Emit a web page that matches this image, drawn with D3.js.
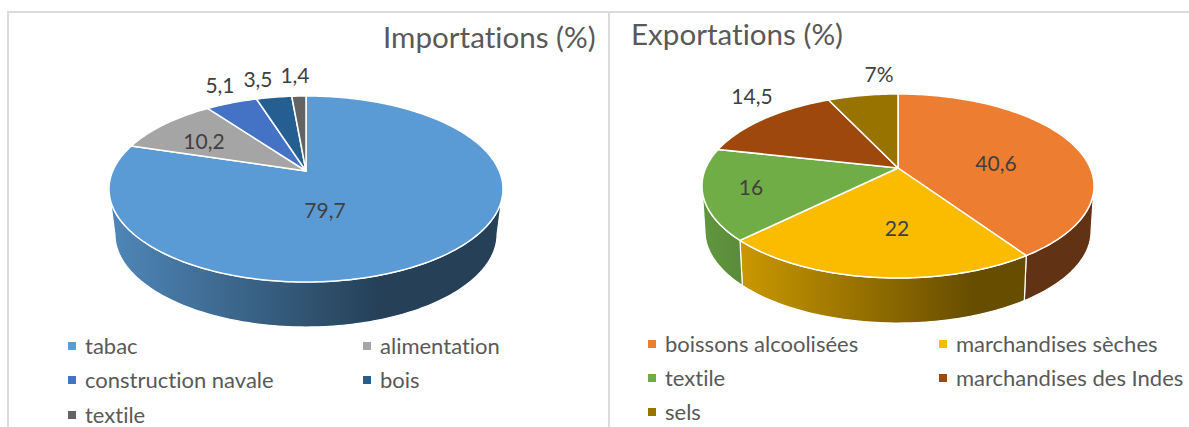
<!DOCTYPE html>
<html>
<head>
<meta charset="utf-8">
<script src="https://cdnjs.cloudflare.com/ajax/libs/d3/7.8.5/d3.min.js"></script>
<style>
	html, body { margin: 0; padding: 0; background: #fff; overflow: hidden; }
	text { font-family: Lato, "Open Sans", sans-serif; font-variant-ligatures: none; }
</style>
</head>
<body>
<script>
// Importations
var importCategories = ["tabac", "alimentation", "construction navale", "bois", "textile"];
var importValues = [79.7, 10.2, 5.1, 3.5, 1.4];
var importLabels = ["79,7", "10,2", "5,1", "3,5", "1,4"];
var importColors = ["#5b9bd5", "#a5a5a5", "#4472c4", "#255e91", "#636363"];

// Exportations
var exportCategories = ["boissons alcoolisées", "marchandises sèches", "textile", "marchandises des Indes", "sels"];
var exportValues = [40.6, 22, 16, 14.5, 7];
var exportLabels = ["40,6", "22", "16", "14,5", "7%"];
var exportColors = ["#ed7d31", "#fbbc00", "#70ad47", "#9e480e", "#997300"];

var width = 1189,
	height = 427;

var svg = d3.select("body")
	.append("svg")
	.attr("width", width)
	.attr("height", height);

// frame of the two charts
svg.append("path")
	.attr("d", "M8,427V12H1189M609,12V427")
	.attr("fill", "none")
	.attr("stroke", "#dcdcdc")
	.attr("stroke-width", 2);

drawPie({
	id: "imp",
	title: "Importations (%)",
	titleX: 383, titleY: 48,
	categories: importCategories, values: importValues, labels: importLabels, colors: importColors,
	apexX: 306, apexY: 171,
	top: 75, bottom: 111, rx: 197,
	sideScaleX: 0.97, sideScaleY: 1, sideOffset: 45,
	labelPos: [[325, 210], [204, 141], [220, 85], [258, 79], [295, 75]],
	legendX: [68, 363], legendY: [346, 380, 415]
});

drawPie({
	id: "exp",
	title: "Exportations (%)",
	titleX: 631, titleY: 45,
	categories: exportCategories, values: exportValues, labels: exportLabels, colors: exportColors,
	apexX: 898, apexY: 168,
	top: 74, bottom: 110, rx: 196,
	sideScaleX: 0.985, sideScaleY: 1, sideOffset: 45,
	labelPos: [[996, 163], [897, 228], [751, 187], [752, 96], [879, 74]],
	legendX: [648, 939], legendY: [344, 378, 412]
});

function drawPie(c) {
	// tilted disc: the apex is not at the middle of the ellipse
	var k = (c.bottom - c.top) / (c.bottom + c.top),
		B = c.top * (1 + k),
		A = c.rx * Math.sqrt(1 - k * k);

	function topPoint(a) {
		var u = Math.sin(a), v = -Math.cos(a), w = 1 - k * v;
		return [c.apexX + A * u / w, c.apexY + B * v / w];
	}

	function bottomPoint(a) {
		var p = topPoint(a);
		return [c.apexX + (p[0] - c.apexX) * c.sideScaleX,
			c.apexY + (p[1] - c.apexY) * c.sideScaleY + c.sideOffset];
	}

	function sample(a0, a1) {
		var n = Math.max(2, Math.ceil((a1 - a0) / 0.02));
		return d3.range(n + 1).map(function(i) { return a0 + (a1 - a0) * i / n; });
	}

	var line = d3.line();
	var arcs = d3.pie().sort(null)(c.values);
	var g = svg.append("g");
	var defs = svg.append("defs");

	var left = c.apexX - c.rx;

	// side wall runs between the two points where the disc is widest
	var minA = Math.acos(-k),
		maxA = 2 * Math.PI - minA;

	arcs.forEach(function(d, i) {
		var a0 = Math.max(d.startAngle, minA),
			a1 = Math.min(d.endAngle, maxA);
		if (a1 <= a0) return;

		var base = d3.rgb(c.colors[i]);
		var grad = defs.append("linearGradient")
			.attr("id", c.id + "-side-" + i)
			.attr("gradientUnits", "userSpaceOnUse")
			.attr("x1", left).attr("x2", left + 0.69 * 2 * c.rx)
			.attr("y1", 0).attr("y2", 0);
		grad.append("stop").attr("offset", 0).attr("stop-color", shade(base, 0.87));
		grad.append("stop").attr("offset", 1).attr("stop-color", shade(base, 0.41));

		var angles = sample(a0, a1);
		var pts = angles.map(topPoint).concat(angles.slice().reverse().map(bottomPoint));
		g.append("path")
			.attr("d", line(pts) + "Z")
			.attr("fill", "url(#" + c.id + "-side-" + i + ")")
			.attr("stroke", "#fff")
			.attr("stroke-width", 1.2)
			.attr("stroke-linejoin", "round");
	});

	// top face
	arcs.forEach(function(d, i) {
		var pts = [[c.apexX, c.apexY]].concat(sample(d.startAngle, d.endAngle).map(topPoint));
		g.append("path")
			.attr("d", line(pts) + "Z")
			.attr("fill", c.colors[i])
			.attr("stroke", "#fff")
			.attr("stroke-width", 1.5)
			.attr("stroke-linejoin", "round");
	});

	// data labels
	g.selectAll(".value")
		.data(c.labels)
		.enter().append("text")
		.attr("class", "value")
		.attr("x", function(d, i) { return c.labelPos[i][0]; })
		.attr("y", function(d, i) { return c.labelPos[i][1]; })
		.attr("dy", "0.36em")
		.attr("text-anchor", "middle")
		.attr("font-size", 21)
		.attr("fill", "#404040")
		.text(function(d) { return d; });

	svg.append("text")
		.attr("x", c.titleX)
		.attr("y", c.titleY)
		.attr("font-size", 29.6)
		.attr("fill", "#595959")
		.text(c.title);

	// legend, two columns
	var item = svg.selectAll(".legend-" + c.id)
		.data(c.categories)
		.enter().append("g")
		.attr("class", "legend-" + c.id)
		.attr("transform", function(d, i) {
			return "translate(" + c.legendX[i % 2] + "," + c.legendY[Math.floor(i / 2)] + ")";
		});

	item.append("rect")
		.attr("y", -4)
		.attr("width", 8)
		.attr("height", 8)
		.attr("fill", function(d, i) { return c.colors[i]; });

	item.append("text")
		.attr("x", 17)
		.attr("dy", "0.36em")
		.attr("font-size", 22)
		.attr("fill", "#595959")
		.text(function(d) { return d; });
}

function shade(col, f) {
	return d3.rgb(col.r * f, col.g * f, col.b * f).formatHex();
}
</script>
</body>
</html>
